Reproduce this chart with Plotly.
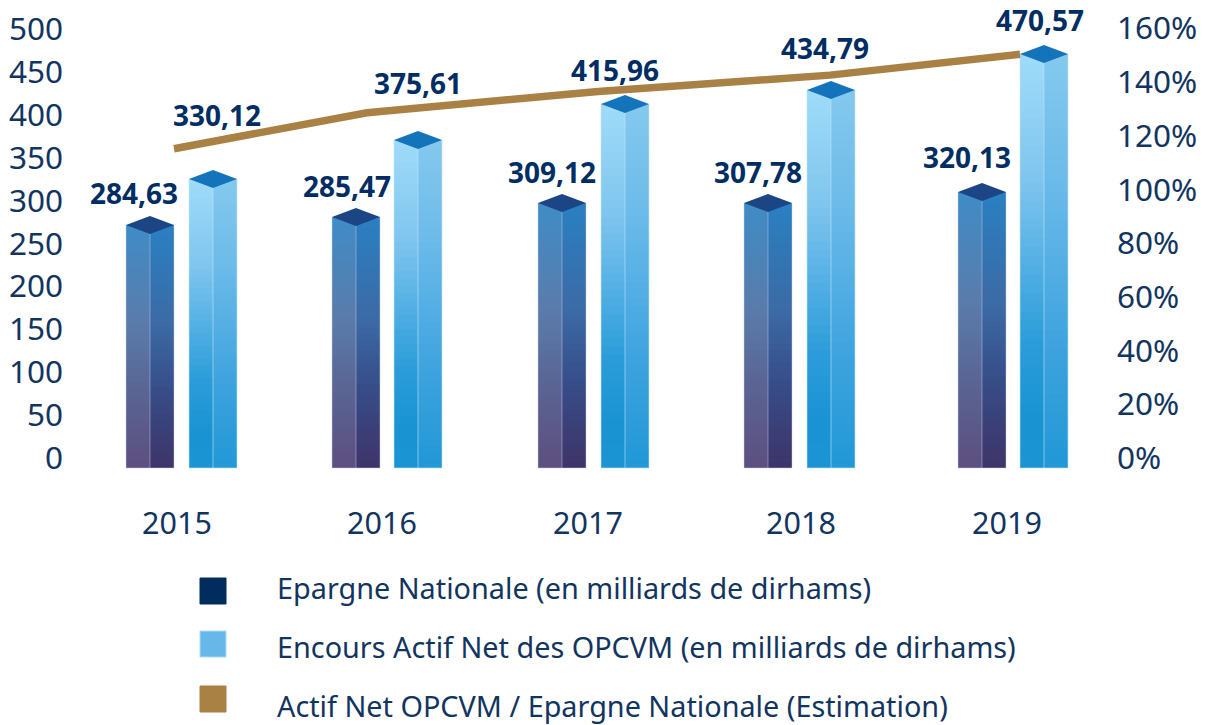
import plotly.graph_objects as go

# ---------- data ----------
years = ["2015", "2016", "2017", "2018", "2019"]
epargne_labels = ["284,63", "285,47", "309,12", "307,78", "320,13"]
encours_labels = ["330,12", "375,61", "415,96", "434,79", "470,57"]
epargne_drawn = [271.6, 280.9, 297.2, 297.2, 310.0]
encours_drawn = [325.2, 370.6, 412.6, 428.9, 470.9]
ratio_pct = [115.2, 128.6, 136.5, 142.6, 150.4]
left_ticks = [0, 50, 100, 150, 200, 250, 300, 350, 400, 450, 500]
right_ticks = [0, 20, 40, 60, 80, 100, 120, 140, 160]
legend_names = ["Epargne Nationale (en milliards de dirhams)",
                "Encours Actif Net des OPCVM (en milliards de dirhams)",
                "Actif Net OPCVM / Epargne Nationale (Estimation)"]

# ---------- layout constants (pixels) ----------
W, H = 1208, 725
L, R, T, B = 64, 1116, 5, 485
Y0, PX_V, PX_P = 458, 0.858, 2.685
BASE_V = (Y0 - 468) / PX_V
HALF = 24
CAP_V = 9 / PX_V
dark_cx = [150, 356, 562, 768, 982]
light_cx = [213, 418, 625, 831, 1044]
tick_cx = [177, 382, 588, 801, 1007]
line_cx = [174, 367, 598, 830, 1020]
dark_lab = [(134, 193), (347, 186), (552, 172), (758, 172), (967, 157)]
light_lab = [(216.5, 115), (418, 83), (615, 70), (825, 48), (1040, 20)]
TXT, BOLD = "#12355f", "#002d62"


def lerp(stops, t):
    for (a, ca), (b, cb) in zip(stops, stops[1:]):
        if t <= b:
            f = (t - a) / (b - a)
            c = [round(ca[i] + (cb[i] - ca[i]) * f) for i in range(3)]
            return f"rgb({c[0]},{c[1]},{c[2]})"
    c = stops[-1][1]
    return f"rgb({c[0]},{c[1]},{c[2]})"


def h(s):
    return tuple(int(s[i:i + 2], 16) for i in (1, 3, 5))


dark_l = [(0, h("#3f8cc6")), (.4, h("#5a7cab")), (.7, h("#5a6392")), (1, h("#5d4f80"))]
dark_r = [(0, h("#2a80c2")), (.4, h("#3b6ba6")), (.7, h("#374b86")), (1, h("#3e3468"))]
light_l = [(0, h("#a0dcf9")), (.3, h("#80c5ee")), (.7, h("#2b9cd9")), (.88, h("#1a93d2")), (1, h("#1b94d3"))]
light_r = [(0, h("#85c9ee")), (.3, h("#6cbbe9")), (.7, h("#3ea3de")), (1, h("#2198d6"))]
N = 45


def faces(name, cxs, tops, sl, sr):
    # Nested bars from the full height downward, so the gradient has no seams.
    xs, ys, bases, cols = [], [], [], []
    for cx, top in zip(cxs, tops):
        for side, stops in ((-HALF / 2, sl), (HALF / 2, sr)):
            full = top - BASE_V
            for k in range(N):
                xs.append(cx + side)
                bases.append(BASE_V)
                ys.append(full * (N - k) / N)
                cols.append(lerp(stops, (k + .5) / N))
    return go.Bar(x=xs, y=ys, base=bases, width=HALF, name=name, showlegend=False,
                  marker=dict(color=cols, line_width=0), hoverinfo="skip")


def caps(cxs, tops, color):
    xs, ys = [], []
    for cx, top in zip(cxs, tops):
        xs += [cx - HALF, cx, cx + HALF, cx, cx - HALF, None]
        ys += [top, top - CAP_V, top, top + CAP_V, top, None]
    return go.Scatter(x=xs, y=ys, mode="lines", fill="toself", fillcolor=color,
                      line=dict(width=0, color=color), showlegend=False, hoverinfo="skip")


def edges(cxs, tops, color):
    xs, ys = [], []
    for cx, top in zip(cxs, tops):
        xs += [cx - HALF, cx - HALF, cx + HALF, cx + HALF, None, cx, cx, None]
        ys += [top, BASE_V, BASE_V, top, None, top - CAP_V, BASE_V, None]
    return go.Scatter(x=xs, y=ys, mode="lines", line=dict(width=1, color=color),
                      showlegend=False, hoverinfo="skip")


fig = go.Figure()
fig.add_trace(faces(legend_names[0], dark_cx, epargne_drawn, dark_l, dark_r))
fig.add_trace(faces(legend_names[1], light_cx, encours_drawn, light_l, light_r))
fig.add_trace(edges(dark_cx, epargne_drawn, "rgba(200,210,240,0.45)"))
fig.add_trace(edges(light_cx, encours_drawn, "rgba(190,230,250,0.6)"))
fig.add_trace(caps(dark_cx, epargne_drawn, "#1b4585"))
fig.add_trace(caps(light_cx, encours_drawn, "#1374bc"))
fig.add_trace(go.Scatter(x=line_cx, y=ratio_pct, yaxis="y2", mode="lines", name=legend_names[2],
                         line=dict(color="#a98144", width=7.5), showlegend=False, hoverinfo="skip"))


def vy(py):
    return (Y0 - py) / PX_V


annotations = []
for txt, (px, py) in zip(epargne_labels + encours_labels, dark_lab + light_lab):
    annotations.append(dict(x=px, y=vy(py), xref="x", yref="y", text=txt, showarrow=False,
                            xanchor="center", yanchor="middle",
                            font=dict(family="Noto Sans", size=28, color=BOLD, weight="bold")))


def pxp(px):
    return (px - L) / (R - L)


def pyp(py):
    return (B - py) / (B - T)


shapes = []
swatches = [("#002d5e", "#002d5e", 578), ("#67b8e8", "#a8dcf8", 631), ("#a98144", "#a98144", 686)]
text_y = [587, 646, 705]
for (fill, border, top), name, ty in zip(swatches, legend_names, text_y):
    shapes.append(dict(type="rect", xref="paper", yref="paper", x0=pxp(200), x1=pxp(226),
                       y0=pyp(top), y1=pyp(top + 26), fillcolor=fill, line=dict(color=border, width=1)))
    annotations.append(dict(x=pxp(274.5), y=pyp(ty), xref="paper", yref="paper", text=name, showarrow=False,
                            xanchor="left", yanchor="middle",
                            font=dict(family="Noto Sans", size=28.8, color=TXT)))

xtickfont = dict(family="Noto Sans", size=30.5, color=TXT)
ytickfont = dict(family="Noto Sans", size=31.5, color=TXT)
fig.update_layout(
    width=W, height=H, autosize=False, showlegend=False, barmode="overlay",
    paper_bgcolor="white", plot_bgcolor="white", annotations=annotations, shapes=shapes,
    margin=dict(l=L, r=W - R, t=T, b=H - B, pad=0),
    xaxis=dict(range=[L, R], showgrid=False, zeroline=False, showline=False, tickmode="array",
               tickvals=tick_cx, ticktext=years, ticks="outside", ticklen=11,
               tickcolor="rgba(0,0,0,0)", tickfont=xtickfont),
    yaxis=dict(range=[vy(B), vy(T)], showgrid=False, zeroline=False, showline=False, tickmode="array",
               tickvals=left_ticks, ticktext=[str(v) for v in left_ticks], ticks="",
               tickfont=ytickfont),
    yaxis2=dict(range=[(Y0 - B) / PX_P, (Y0 - T) / PX_P], overlaying="y", side="right", showgrid=False,
                zeroline=False, showline=False, tickmode="array", tickvals=right_ticks,
                ticktext=[f"{v}%" for v in right_ticks], ticks="",
                tickfont=ytickfont),
)
fig.write_html("out.html", config={"displayModeBar": False},
               post_script="document.body.style.margin='0';document.body.style.overflow='hidden';")
